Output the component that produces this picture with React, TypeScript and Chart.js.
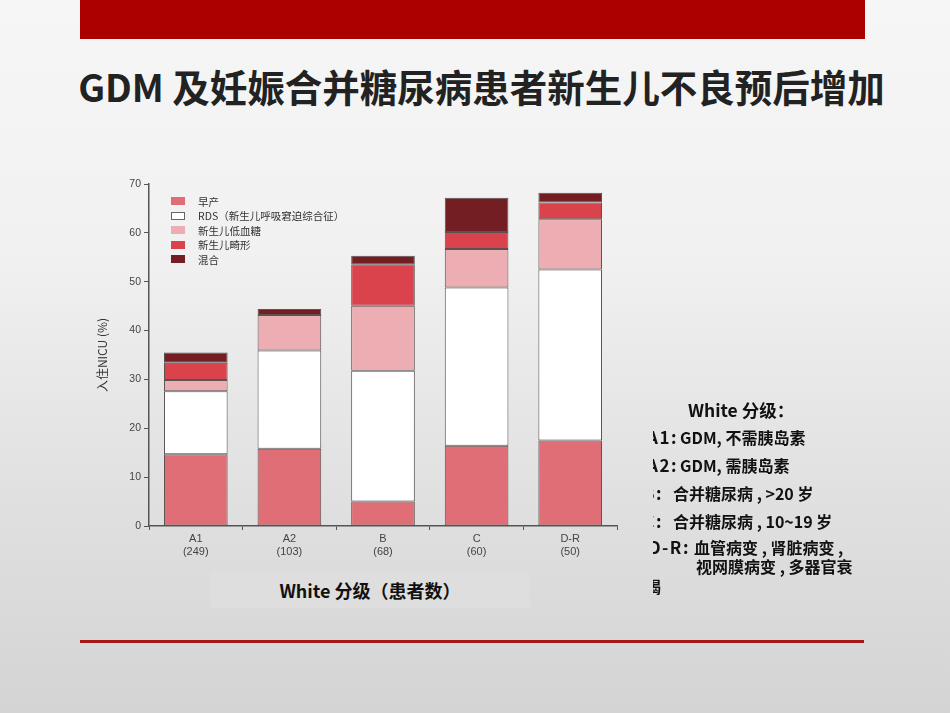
import React, { useEffect, useRef } from "react";
import { Chart, registerables } from "chart.js";

Chart.register(...registerables);

const categories = ["A1", "A2", "B", "C", "D-R"];
const patientCounts = ["(249)", "(103)", "(68)", "(60)", "(50)"];
const seriesNames = ["早产", "RDS（新生儿呼吸窘迫综合征）", "新生儿低血糖", "新生儿畸形", "混合"];
const seriesColors = ["#e06e76", "#ffffff", "#ecaeb2", "#da424c", "#731e22"];
const preterm = [14.7, 15.8, 5.0, 16.4, 17.5];
const rds = [12.9, 20.1, 26.8, 32.4, 35.0];
const hypoglycemia = [2.3, 7.3, 13.3, 7.9, 10.3];
const malformation = [3.5, 0, 8.5, 3.5, 3.4];
const mixed = [2.1, 1.2, 1.7, 7.0, 2.0];
const yTicks = [0, 10, 20, 30, 40, 50, 60, 70];

const seriesValues = [preterm, rds, hypoglycemia, malformation, mixed];

const CJK = '"Noto Sans CJK SC", "Noto Sans", sans-serif';

export default function App() {
  const canvasRef = useRef<HTMLCanvasElement | null>(null);

  useEffect(() => {
    const canvas = canvasRef.current;
    if (!canvas) return;
    const chart = new Chart(canvas, {
      type: "bar",
      data: {
        labels: categories.map((c, i) => [c, patientCounts[i]]),
        datasets: seriesValues.map((vals, i) => ({
          label: seriesNames[i],
          data: vals,
          backgroundColor: seriesColors[i],
          borderColor: "#5a5353",
          borderWidth: 1,
          borderSkipped: false,
          categoryPercentage: 1,
          barPercentage: 0.68,
        })),
      },
      options: {
        responsive: false,
        animation: false,
        maintainAspectRatio: false,
        layout: { padding: { left: 0, top: 34, right: 38, bottom: 0 } },
        plugins: {
          legend: { display: false },
          tooltip: { enabled: false },
        },
        scales: {
          x: {
            stacked: true,
            grid: {
              display: true,
              drawOnChartArea: false,
              drawTicks: true,
              tickLength: 4,
              color: "#555",
              offset: true,
            },
            border: { display: true, color: "#555", width: 1.5 },
            ticks: {
              color: "#444",
              font: { family: "Arial, Liberation Sans, sans-serif", size: 11 },
              padding: 2,
              maxRotation: 0,
            },
            afterFit: (scale: any) => {
              scale.height = 44;
            },
          },
          y: {
            stacked: true,
            min: 0,
            max: 70,
            afterBuildTicks: (scale: any) => {
              scale.ticks = yTicks.map((v) => ({ value: v }));
            },
            grid: {
              display: true,
              drawOnChartArea: false,
              drawTicks: true,
              tickLength: 5,
              color: "#555",
            },
            border: { display: true, color: "#555", width: 1.5 },
            ticks: {
              color: "#444",
              font: { family: "Arial, Liberation Sans, sans-serif", size: 10.5 },
              padding: 3,
            },
            title: {
              display: true,
              text: "入住NICU (%)",
              color: "#333",
              font: { family: CJK, size: 12 },
              padding: { top: 0, bottom: 0 },
            },
            afterFit: (scale: any) => {
              scale.width = 54;
            },
          },
        },
      },
    });
    return () => chart.destroy();
  }, []);

  const rightLines = [
    { prefix: "A1:", end: 678, body: "GDM, 不需胰岛素", x: 680, y: 437 },
    { prefix: "A2:", end: 678, body: "GDM, 需胰岛素", x: 680, y: 465 },
    { prefix: "B:", end: 663, body: "合并糖尿病 , >20 岁", x: 673, y: 493 },
    { prefix: "C:", end: 663, body: "合并糖尿病 , 10~19 岁", x: 673, y: 521 },
    { prefix: "D-R:", end: 690, body: "血管病变 , 肾脏病变 ,", x: 694, y: 547 },
    { prefix: "", end: 0, body: "视网膜病变 , 多器官衰", x: 696, y: 566 },
    { prefix: "", end: 0, body: "竭", x: 645, y: 586 },
  ];

  const clipLeft = 653;
  const textStyle: React.CSSProperties = {
    position: "absolute",
    fontSize: 16,
    fontWeight: 700,
    color: "#111",
    lineHeight: "22px",
    whiteSpace: "nowrap",
  };

  return (
    <div
      style={{
        position: "absolute",
        left: 0,
        top: 0,
        width: 950,
        height: 713,
        overflow: "hidden",
        background: "linear-gradient(180deg, #f6f6f6 0%, #f1f1f1 35%, #e0e0e0 70%, #d4d4d4 100%)",
        fontFamily: CJK,
      }}
    >
      <div style={{ position: "absolute", left: 80, top: 0, width: 785, height: 39, background: "#aa0000" }} />
      <div
        style={{
          position: "absolute",
          left: 0,
          width: 963,
          top: 60,
          textAlign: "center",
          fontSize: 37.5,
          fontWeight: 700,
          color: "#222",
          lineHeight: "52px",
          whiteSpace: "nowrap",
        }}
      >
        GDM 及妊娠合并糖尿病患者新生儿不良预后增加
      </div>

      <div style={{ position: "absolute", left: 95, top: 150, width: 560, height: 420 }}>
        <canvas ref={canvasRef} width={560} height={420} style={{ display: "block" }} />
      </div>

      {seriesNames.map((name, i) => (
        <div
          key={name}
          style={{ position: "absolute", left: 171, top: 201 + i * 14.5 - 7, height: 14, display: "flex", alignItems: "center" }}
        >
          <div
            style={{
              width: 14,
              height: 8,
              background: seriesColors[i],
              border: i === 1 ? "1px solid #666" : "none",
              boxSizing: "border-box",
            }}
          />
          <div style={{ marginLeft: 13, fontSize: 10.5, color: "#333", whiteSpace: "nowrap" }}>{name}</div>
        </div>
      ))}

      <div
        style={{
          position: "absolute",
          left: 210,
          top: 572,
          width: 320,
          height: 36,
          background: "rgba(222,222,222,0.9)",
          textAlign: "center",
          lineHeight: "36px",
          fontSize: 18,
          fontWeight: 700,
          color: "#111",
        }}
      >
        White 分级（患者数）
      </div>

      <div style={{ position: "absolute", left: clipLeft, top: 390, width: 260, height: 215, overflow: "hidden" }}>
        <div style={{ ...textStyle, left: 688 - clipLeft, top: 410 - 390 - 12, fontSize: 17.5, lineHeight: "24px" }}>
          White 分级：
        </div>
        {rightLines.map((l) => (
          <React.Fragment key={l.body}>
            {l.prefix ? (
              <div
                style={{
                  ...textStyle,
                  right: 260 - (l.end - clipLeft),
                  top: l.y - 390 - 11,
                  textAlign: "right",
                  fontSize: 17,
                  letterSpacing: 1.5,
                }}
              >
                {l.prefix}
              </div>
            ) : null}
            <div style={{ ...textStyle, left: l.x - clipLeft, top: l.y - 390 - 11 }}>{l.body}</div>
          </React.Fragment>
        ))}
      </div>

      <div style={{ position: "absolute", left: 80, top: 640, width: 784, height: 3, background: "#a31818" }} />
    </div>
  );
}
